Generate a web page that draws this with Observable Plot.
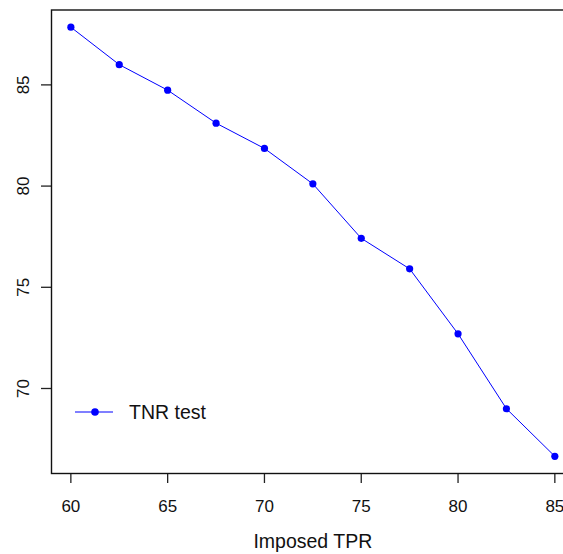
<!DOCTYPE html>
<html>
<head>
<meta charset="utf-8">
<script src="https://cdn.jsdelivr.net/npm/d3@7"></script>
<script src="https://cdn.jsdelivr.net/npm/@observablehq/plot@0.6"></script>
<style>
  html, body { margin: 0; padding: 0; background: white; overflow: hidden; }
  #chart { width: 563px; height: 554px; position: relative; overflow: hidden; }
</style>
</head>
<body>
<div id="chart"></div>
<script>
const tpr = [60, 62.5, 65, 67.5, 70, 72.5, 75, 77.5, 80, 82.5, 85];
const tnr = [87.85, 86.0, 84.74, 83.11, 81.86, 80.11, 77.42, 75.91, 72.70, 69.0, 66.65];
const xTicks = [60, 65, 70, 75, 80, 85];
const yTicks = [70, 75, 80, 85];
const xLabel = "Imposed TPR";
const seriesName = "TNR test";

const data = tpr.map((x, i) => ({x, y: tnr[i]}));
const font = "'Liberation Sans', Arial, sans-serif";
const blue = "#0000FF";

const plot = Plot.plot({
  width: 563,
  height: 554,
  marginLeft: 51,
  marginRight: -10.7,
  marginTop: 9.5,
  marginBottom: 81,
  style: {fontFamily: font, color: "#111", background: "white", overflow: "hidden"},
  x: {domain: [59, 86]},
  y: {domain: [65.8, 88.7]},
  marks: [
    Plot.axisX({ticks: xTicks, tickSize: 10, tickPadding: 16, fontSize: 17, label: null, stroke: "#222", strokeWidth: 1.3}),
    Plot.axisY({ticks: yTicks, tickSize: 10, tickFormat: () => "", label: null, stroke: "#222", strokeWidth: 1.3}),
    Plot.text(yTicks, {y: d => d, text: d => String(d), frameAnchor: "left", dx: -28, rotate: -90, textAnchor: "middle", lineAnchor: "middle", fontSize: 17, fill: "#111"}),
    Plot.frame({stroke: "#111", strokeWidth: 1.4}),
    Plot.line(data, {x: "x", y: "y", stroke: blue, strokeWidth: 1}),
    Plot.dot(data, {x: "x", y: "y", fill: blue, r: 3.6}),
    Plot.text([xLabel], {frameAnchor: "bottom", dy: 68, fontSize: 19.5, lineAnchor: "middle", fill: "#111"})
  ]
});

// legend inside the plot area, anchored to the frame's bottom-left corner
const xr = plot.scale("x").range;
const yr = plot.scale("y").range;
const left = Math.min(...xr), bottom = Math.max(...yr);
const svg = d3.select(plot);
const lg = svg.append("g").attr("transform", `translate(${left},${bottom - 61})`);
lg.append("line").attr("x1", 24).attr("x2", 62).attr("y1", 0).attr("y2", 0).attr("stroke", blue).attr("stroke-width", 1.2);
lg.append("circle").attr("cx", 44).attr("cy", 0).attr("r", 3.8).attr("fill", blue);
lg.append("text").attr("x", 78).attr("y", 0).attr("dy", "0.35em").attr("text-anchor", "start").attr("font-size", 19.5).attr("fill", "#111").attr("font-family", font).text(seriesName);

document.getElementById("chart").appendChild(plot);
</script>
</body>
</html>
